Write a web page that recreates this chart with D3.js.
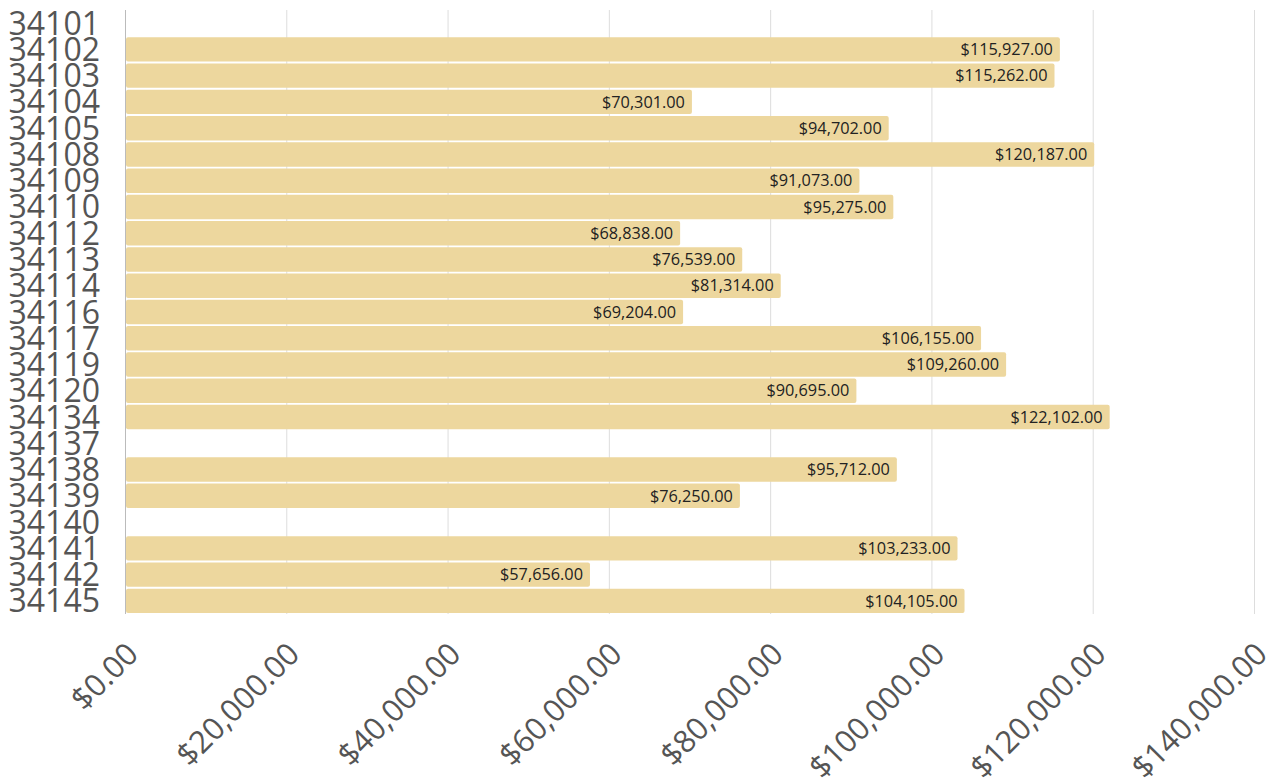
<!DOCTYPE html>
<html><head><meta charset="utf-8">
<script src="https://cdn.jsdelivr.net/npm/d3@7"></script>
<style>
html,body{margin:0;padding:0;background:#fff;}
svg{display:block;font-family:"Open Sans",sans-serif;}
</style></head>
<body><svg id="c" width="1277" height="778"></svg>
<script>
const categories = ["34101","34102","34103","34104","34105","34108","34109","34110","34112","34113","34114","34116","34117","34119","34120","34134","34137","34138","34139","34140","34141","34142","34145"];
const values = [null,115927,115262,70301,94702,120187,91073,95275,68838,76539,81314,69204,106155,109260,90695,122102,null,95712,76250,null,103233,57656,104105];
const xTicks = [0,20000,40000,60000,80000,100000,120000,140000];

(function(){
const svg = d3.select("#c");
const pLeft = 125, pRight = 1254, pTop = 10, pBottom = 614;
const x = d3.scaleLinear().domain([0,140000]).range([pLeft,pRight]);
const y = d3.scaleBand().domain(categories).range([pTop,pBottom]).paddingInner(0.07).paddingOuter(0.035);
const money = v => "$" + d3.format(",.2f")(v);

svg.append("g").selectAll("line").data(xTicks).join("line")
  .attr("x1", d=>x(d)+0.5).attr("x2", d=>x(d)+0.5)
  .attr("y1", pTop).attr("y2", pBottom)
  .attr("stroke", d=> d===0 ? "#bbb" : "#ddd").attr("stroke-width",1);

const data = categories.map((c,i)=>({c, v: values[i]}));
const bars = data.filter(d=>d.v!=null);

svg.append("g").selectAll("rect").data(bars).join("rect")
  .attr("x", x(0)+1).attr("y", d=>y(d.c))
  .attr("width", d=>x(d.v)-x(0)-1).attr("height", y.bandwidth())
  .attr("rx",2).attr("fill","#EDD79E");

svg.append("g").selectAll("text").data(bars).join("text")
  .attr("x", d=>x(d.v)-7).attr("y", d=>y(d.c)+y.bandwidth()/2)
  .attr("dy","0.35em").attr("text-anchor","end")
  .attr("font-size",16.3).attr("fill","#222")
  .text(d=>money(d.v));

svg.append("g").selectAll("text").data(categories).join("text")
  .attr("x", 100).attr("y", d=>y(d)+y.bandwidth()/2)
  .attr("dy","0.36em").attr("text-anchor","end")
  .attr("font-size",32).attr("fill","#555")
  .text(d=>d);

svg.append("g").selectAll("text").data(xTicks).join("text")
  .attr("transform", d=>`translate(${x(d)+15},${pBottom+42}) rotate(-45)`)
  .attr("text-anchor","end")
  .attr("font-size",31).attr("fill","#555")
  .text(d=>money(d));
})();
</script></body></html>
